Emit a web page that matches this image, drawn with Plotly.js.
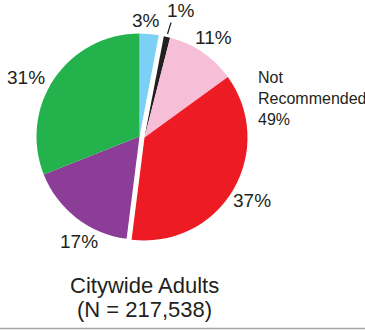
<!DOCTYPE html>
<html>
<head>
<meta charset="utf-8">
<script src="https://cdn.plot.ly/plotly-3.0.1.min.js"></script>
<style>html,body{margin:0;padding:0;background:#fff;}#chart{width:365px;height:330px;}</style>
</head>
<body>
<div id="chart"></div>
<script>
// Data (clockwise from 12 o'clock)
const categories = ["Cat A (blue)", "Cat B (black)", "Cat C (pink)", "Cat D (red)", "Cat E (purple)", "Cat F (green)"];
const values = [3, 1, 11, 37, 17, 31];
const labelsText = ["3%", "1%", "11%", "37%", "17%", "31%"];
const colors = ["#7dd0f5", "#231f20", "#f6bed7", "#ed1c24", "#8b3d97", "#24b24c"];
// Slices belonging to the "Not Recommended" group (pulled out together)
const notRecommended = [false, true, true, true, false, false];
const groupLabel = "Not<br>Recommended<br>49%";
const titleLine1 = "Citywide Adults";
const titleLine2 = "(N = 217,538)";

const W = 365, H = 330;
const FONT = '"Liberation Sans", Arial, Helvetica, sans-serif';
const TXT = '#231f20';

function px(x){ return x / W; }
function py(y){ return 1 - y / H; }

// Pie geometry in pixels
const cx = 139.5, cy = 136.5, r = 103;
const shift = [5, 1];
// label placement (pixels), layout only
const labelPos = [[146, 21], [181, 11], [213, 38], [252, 200], [79, 241], [26, 77]];

function makeTrace(inGroup, dx, dy) {
  return {
    type: 'pie',
    values: values,
    labels: categories,
    sort: false,
    direction: 'clockwise',
    rotation: 0,
    marker: {
      colors: colors.map((c, i) => notRecommended[i] === inGroup ? c : 'rgba(0,0,0,0)'),
      line: {width: 0}
    },
    textinfo: 'none',
    hoverinfo: 'skip',
    showlegend: false,
    domain: {
      x: [px(cx - r + dx), px(cx + r + dx)],
      y: [py(cy + r + dy), py(cy - r + dy)]
    }
  };
}

const traces = [makeTrace(false, 0, 0), makeTrace(true, shift[0], shift[1])];

const annotations = labelsText.map((t, i) => {
  const a = {xref: 'paper', yref: 'paper', x: px(labelPos[i][0]), y: py(labelPos[i][1]), text: t,
    showarrow: false, xanchor: 'center', yanchor: 'middle', font: {family: FONT, size: 19, color: TXT}};
  return a;
});
// leader line for the 1% label
annotations.push({xref: 'paper', yref: 'paper', x: px(167.5), y: py(34), ax: px(171.5), ay: py(21),
  axref: 'paper', ayref: 'paper', text: '', showarrow: true, arrowhead: 0, arrowwidth: 1.2,
  arrowcolor: TXT, standoff: 0, startstandoff: 0});
annotations.push(
  {xref: 'paper', yref: 'paper', x: px(256), y: py(67), text: groupLabel, showarrow: false,
   align: 'left', xanchor: 'left', yanchor: 'top', font: {family: FONT, size: 16, color: TXT}},
  {xref: 'paper', yref: 'paper', x: px(144), y: py(285), text: titleLine1, showarrow: false,
   xanchor: 'center', yanchor: 'middle', font: {family: FONT, size: 22, color: TXT}},
  {xref: 'paper', yref: 'paper', x: px(144), y: py(309), text: titleLine2, showarrow: false,
   xanchor: 'center', yanchor: 'middle', font: {family: FONT, size: 22, color: TXT}}
);

const layout = {
  width: W, height: H,
  margin: {l: 0, r: 0, t: 0, b: 0},
  paper_bgcolor: '#fff',
  plot_bgcolor: '#fff',
  showlegend: false,
  font: {family: FONT, color: TXT},
  annotations: annotations,
  shapes: [
    {type: 'line', xref: 'paper', yref: 'paper', x0: 0, x1: 1, y0: py(328.5), y1: py(328.5),
     line: {color: '#a6a6a6', width: 1.5}}
  ]
};

Plotly.newPlot('chart', traces, layout, {displayModeBar: false, staticPlot: true});
</script>
</body>
</html>
